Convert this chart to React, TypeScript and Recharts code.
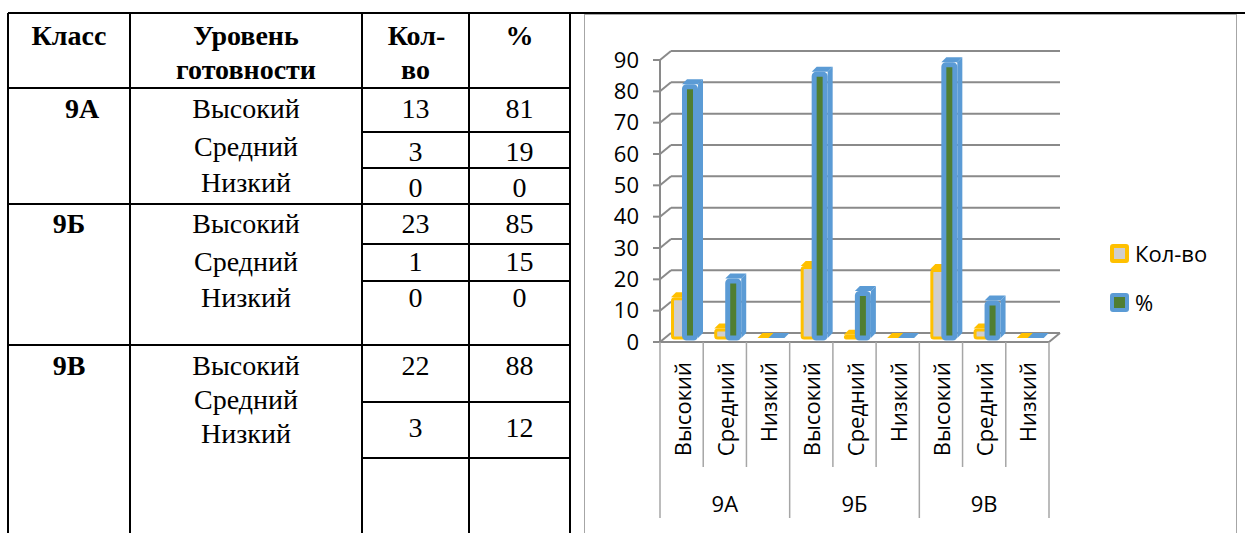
import React from 'react';
import { BarChart, Bar, XAxis, YAxis, CartesianGrid, Legend } from 'recharts';

const classes = ['9А', '9Б', '9В'];
const levels = ['Высокий', 'Средний', 'Низкий'];
const counts = [13, 3, 0, 23, 1, 0, 22, 3, 0];
const percents = [81, 19, 0, 85, 15, 0, 88, 12, 0];
const yTicks = [0, 10, 20, 30, 40, 50, 60, 70, 80, 90];
const seriesOrder = ['Кол-во', '%'];
// the 9В / Низкий row is left empty in the table
const emptyTableCells = [8];

const chartData = counts.map((c, i) => ({
  id: classes[Math.floor(i / 3)] + '-' + levels[i % 3],
  group: classes[Math.floor(i / 3)],
  level: levels[i % 3],
  count: c,
  pct: percents[i],
}));

const SERIF = '"Liberation Serif", "Times New Roman", serif';
const SANS = '"Open Sans", "Noto Sans", sans-serif';
const GRID = '#8a8a8a';
const COUNT_COLORS = { face: '#d0cece', border: '#ffc000' };
const PCT_COLORS = { face: '#507e32', border: '#5b9bd5' };
const DEPTH_X = 5;
const DEPTH_Y = 5;

// table layout
const colX = [8, 130, 362, 469, 570];
const rowY = [13, 88, 204, 345];
const innerY = [132, 168, 244, 281, 402, 458];
const levelY = [[109, 147, 183], [224, 262, 298], [366, 400, 434]];
const numY = [[109, 152, 188], [224, 262, 298], [366, 428, 470]];
const classPos = [[82, 109], [69, 224], [69, 366]];

function HLine({ x1, x2, y }: { x1: number; x2: number; y: number }) {
  return <div style={{ position: 'absolute', left: x1, top: y - 1, width: x2 - x1 + 1, height: 2, background: '#000' }} />;
}

function VLine({ x, y1, y2 }: { x: number; y1: number; y2: number }) {
  return <div style={{ position: 'absolute', left: x - 1, top: y1, width: 2, height: y2 - y1, background: '#000' }} />;
}

function T({ x, y, text, bold }: { x: number; y: number; text: string; bold?: boolean }) {
  return (
    <div
      style={{
        position: 'absolute',
        left: x - 100,
        top: y - 14,
        width: 200,
        textAlign: 'center',
        fontFamily: SERIF,
        fontSize: 28,
        lineHeight: '28px',
        fontWeight: bold ? 700 : 400,
        whiteSpace: 'nowrap',
      }}
    >
      {text}
    </div>
  );
}

function Table() {
  const cKol = (colX[2] + colX[3]) / 2;
  const cPct = (colX[3] + colX[4]) / 2;
  const cLvl = (colX[1] + colX[2]) / 2;
  return (
    <>
      <HLine x1={colX[0]} x2={1245} y={rowY[0]} />
      {rowY.slice(1).map((y) => <HLine key={y} x1={colX[0]} x2={colX[4]} y={y} />)}
      {innerY.map((y) => <HLine key={y} x1={colX[2]} x2={colX[4]} y={y} />)}
      {colX.map((x) => <VLine key={x} x={x} y1={rowY[0]} y2={533} />)}

      <T x={69} y={36} text="Класс" bold />
      <T x={cLvl} y={36} text="Уровень" bold />
      <T x={cLvl} y={70} text="готовности" bold />
      <T x={cKol + 1} y={36} text="Кол-" bold />
      <T x={cKol} y={70} text="во" bold />
      <T x={cPct} y={36} text="%" bold />

      {classes.map((cls, g) => (
        <React.Fragment key={cls}>
          <T x={classPos[g][0]} y={classPos[g][1]} text={cls} bold />
          {levels.map((lvl, k) => {
            const i = g * 3 + k;
            const hidden = emptyTableCells.includes(i);
            return (
              <React.Fragment key={lvl}>
                <T x={cLvl} y={levelY[g][k]} text={lvl} />
                {!hidden && <T x={cKol} y={numY[g][k]} text={String(counts[i])} />}
                {!hidden && <T x={cPct} y={numY[g][k]} text={String(percents[i])} />}
              </React.Fragment>
            );
          })}
        </React.Fragment>
      ))}
    </>
  );
}

function Bar3D(props: any) {
  const { x, y, width, height, face, border, bw } = props;
  const X = x + 3;
  const Y = y - 4;
  const h = Math.max(height, 0);
  return (
    <g>
      {h > 0 && (
        <polygon
          points={`${X + width},${Y} ${X + width + DEPTH_X},${Y - DEPTH_Y} ${X + width + DEPTH_X},${Y + h - DEPTH_Y} ${X + width},${Y + h}`}
          fill={border}
        />
      )}
      <polygon
        points={`${X},${Y} ${X + width},${Y} ${X + width + DEPTH_X},${Y - DEPTH_Y} ${X + DEPTH_X},${Y - DEPTH_Y}`}
        fill={border}
      />
      {h > 0 && (
        <rect
          x={X + bw / 2}
          y={Y + bw / 2}
          width={width - bw}
          height={Math.max(h - bw / 2, 0)}
          fill={face}
          stroke={border}
          strokeWidth={bw}
          rx={2}
        />
      )}
    </g>
  );
}

function GridLine(props: any) {
  const { x1, x2, y1, index } = props;
  const bx = x1 + 11;
  const by = y1 - 9;
  return (
    <g key={'g' + index}>
      <line x1={x1} y1={y1} x2={bx} y2={by} stroke={GRID} strokeWidth={2} />
      <line x1={bx} y1={by} x2={x2 + 11} y2={by} stroke={GRID} strokeWidth={2} />
      {index === 0 && <line x1={x2} y1={y1} x2={x2 + 11} y2={by} stroke={GRID} strokeWidth={2} />}
    </g>
  );
}

function CategoryTick(props: any) {
  const { x, y, index, payload } = props;
  const half = payload && payload.offset ? payload.offset : 21.5;
  const d = chartData[index];
  if (!d) return null;
  const groupEdge = index % 3 === 0;
  return (
    <g>
      <line x1={x - half} y1={y} x2={x - half} y2={y + (groupEdge ? 176 : 125)} stroke="#a6a6a6" strokeWidth={1.5} />
      {index === chartData.length - 1 && (
        <line x1={x + half} y1={y} x2={x + half} y2={y + 176} stroke="#a6a6a6" strokeWidth={1.5} />
      )}
      <text
        x={x}
        y={y + 20}
        transform={`rotate(-90, ${x}, ${y + 20})`}
        textAnchor="end"
        dominantBaseline="central"
        fontFamily={SANS}
        fontSize={22}
        fill="#000"
      >
        {d.level}
      </text>
      {index % 3 === 1 && (
        <text x={x} y={y + 161} textAnchor="middle" dominantBaseline="central" fontFamily={SANS} fontSize={22} fill="#000">
          {d.group}
        </text>
      )}
    </g>
  );
}

function LegendBox({ payload }: any) {
  const colors: Record<string, { face: string; border: string }> = { 'Кол-во': COUNT_COLORS, '%': PCT_COLORS };
  const items = [...(payload || [])].sort(
    (a: any, b: any) => seriesOrder.indexOf(a.value) - seriesOrder.indexOf(b.value),
  );
  return (
    <div>
      {items.map((item: any) => {
        const c = colors[item.value] || COUNT_COLORS;
        return (
          <div key={item.value} style={{ display: 'flex', alignItems: 'center', height: 28, marginBottom: 21 }}>
            <div
              style={{
                width: 11,
                height: 11,
                border: `4px solid ${c.border}`,
                background: c.face,
                borderRadius: 3,
              }}
            />
            <span style={{ marginLeft: 6, fontFamily: SANS, fontSize: 22, color: '#000' }}>{item.value}</span>
          </div>
        );
      })}
    </div>
  );
}

export default function App() {
  return (
    <div style={{ position: 'absolute', left: 0, top: 0, width: 1245, height: 533, overflow: 'hidden', background: '#fff' }}>
      <Table />
      <div style={{ position: 'absolute', left: 584, top: 14, width: 653, height: 540, border: '1.5px solid #a6a6a6', boxSizing: 'border-box' }} />
      <div style={{ position: 'absolute', left: 584, top: 14 }}>
        <BarChart
          width={653}
          height={519}
          data={chartData}
          margin={{ top: 46, right: 188, bottom: 0, left: 0 }}
          barGap={-5}
          barCategoryGap={0}
        >
          <CartesianGrid vertical={false} horizontal={GridLine} />
          <XAxis
            dataKey="id"
            interval={0}
            height={191}
            tickLine={false}
            tickSize={0}
            tickMargin={0}
            axisLine={{ stroke: GRID, strokeWidth: 2 }}
            tick={<CategoryTick />}
          />
          <YAxis
            domain={[0, 90]}
            ticks={yTicks}
            interval={0}
            width={76}
            tickSize={7}
            tickMargin={14}
            axisLine={{ stroke: GRID, strokeWidth: 2 }}
            tickLine={{ stroke: GRID, strokeWidth: 2 }}
            tick={{ fontSize: 22, fill: '#000', fontFamily: SANS }}
          />
          <Legend
            layout="horizontal"
            align="center"
            verticalAlign="middle"
            wrapperStyle={{ left: 526, top: 225, width: 120 }}
            content={<LegendBox />}
          />
          <Bar
            dataKey="count"
            name="Кол-во"
            barSize={16}
            fill={COUNT_COLORS.border}
            isAnimationActive={false}
            shape={(p: any) => <Bar3D {...p} face={COUNT_COLORS.face} border={COUNT_COLORS.border} bw={3} />}
          />
          <Bar
            dataKey="pct"
            name="%"
            barSize={16}
            fill={PCT_COLORS.border}
            isAnimationActive={false}
            shape={(p: any) => <Bar3D {...p} face={PCT_COLORS.face} border={PCT_COLORS.border} bw={5} />}
          />
        </BarChart>
      </div>
    </div>
  );
}
